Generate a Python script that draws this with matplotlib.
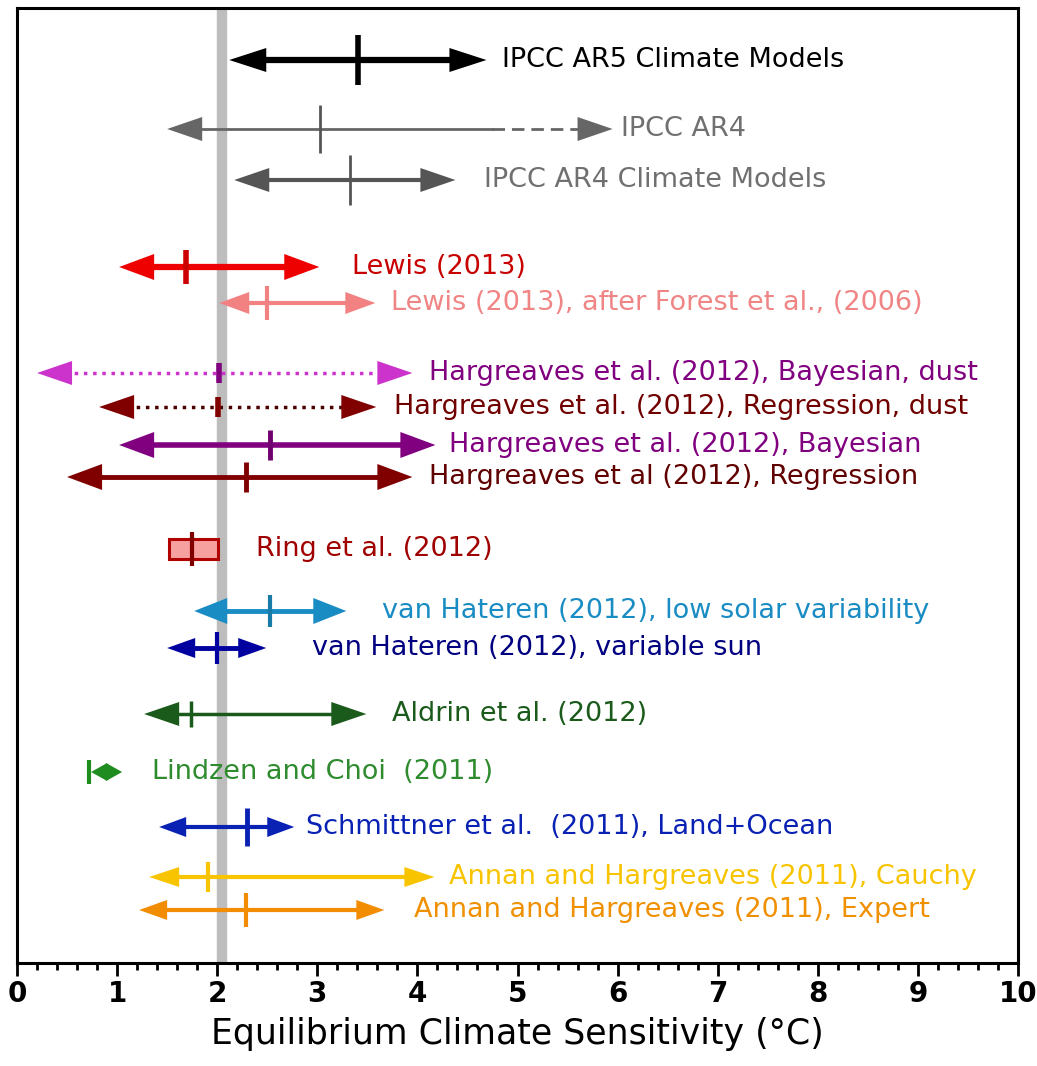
import matplotlib
matplotlib.use("Agg")
import matplotlib.pyplot as plt
from matplotlib.patches import Rectangle

plt.rcParams['font.family'] = ['DejaVu Sans']

# estimates (deg C)
names = [
    "IPCC AR5 Climate Models",
    "IPCC AR4",
    "IPCC AR4 Climate Models",
    "Lewis (2013)",
    "Lewis (2013), after Forest et al., (2006)",
    "Hargreaves et al. (2012), Bayesian, dust",
    "Hargreaves et al. (2012), Regression, dust",
    "Hargreaves et al. (2012), Bayesian",
    "Hargreaves et al (2012), Regression",
    "Ring et al. (2012)",
    "van Hateren (2012), low solar variability",
    "van Hateren (2012), variable sun",
    "Aldrin et al. (2012)",
    "Lindzen and Choi  (2011)",
    "Schmittner et al.  (2011), Land+Ocean",
    "Annan and Hargreaves (2011), Cauchy",
    "Annan and Hargreaves (2011), Expert",
]
low = [2.12, 1.50, 2.17, 1.02, 2.02, 0.20, 0.82, 1.02, 0.50, 1.52, 1.77, 1.50, 1.27, 0.74, 1.42, 1.32, 1.22]
best = [3.41, 3.03, 3.33, 1.69, 2.50, 2.02, 2.01, 2.53, 2.29, 1.75, 2.53, 2.00, 1.74, 0.72, 2.30, 1.91, 2.29]
high = [4.69, 5.95, 4.38, 3.02, 3.58, 3.95, 3.59, 4.18, 3.95, 2.01, 3.29, 2.49, 3.49, 1.05, 2.77, 4.17, 3.67]
ar4_likely_top = 4.75   # solid part of the AR4 bar ends here, dashed beyond
ring_box = (1.52, 2.01)
observed_line = 2.05

# layout / style per row
row_y = [60, 129, 180, 267, 303, 373, 407, 445, 477, 549, 611, 648, 714, 772, 827, 877, 910]
label_x = [4.85, 6.03, 4.67, 3.35, 3.74, 4.12, 3.77, 4.32, 4.12, 2.39, 3.65, 2.95, 3.75, 1.35, 2.89, 4.32, 3.97]
colors = ["black", "#666666", "#555555", "#ee0000", "#f28282", "#cc33cc", "#4a0000", "#800080",
          "#800000", "#c00000", "#1a8cc4", "#0000a0", "#1a5a1a", "#1f8c1f", "#0a22b4", "#f8c400", "#f28c00"]
head_colors = ["black", "#666666", "#555555", "#ee0000", "#f28282", "#cc33cc", "#800000", "#800080",
               "#800000", "#c00000", "#1a8cc4", "#0000a0", "#1a5a1a", "#1f8c1f", "#0a22b4", "#f8c400", "#f28c00"]
tick_colors = ["black", "#555555", "#555555", "#cc0000", "#f28282", "#800080", "#800000", "#700070",
               "#800000", "#800000", "#1a7aa8", "#0000a0", "#1a5a1a", "#1f8c1f", "#0a22b4", "#f8c400", "#f28c00"]
label_colors = ["black", "#707070", "#707070", "#c80000", "#f08585", "#800080", "#700000", "#800080",
                "#600000", "#a00000", "#1a8cc4", "#000080", "#1a5a1a", "#2e8b2e", "#0a22b4", "#f8c400", "#f09000"]
styles = ["-", "-", "-", "-", "-", ":", ":", "-", "-", "-", "-", "-", "-", "-", "-", "-", "-"]
widths = [4.5, 2.0, 3.0, 4.5, 3.0, 2.5, 2.5, 4.0, 3.5, 3.0, 3.5, 3.5, 2.5, 3.0, 3.0, 3.0, 3.0]
head_len = [0.37, 0.35, 0.35, 0.35, 0.30, 0.35, 0.35, 0.35, 0.35, 0, 0.33, 0.28, 0.35, 0.16, 0.27, 0.30, 0.28]
head_w = [12, 12, 12, 13, 11, 12, 12, 13, 13, 0, 13, 10, 12, 9, 10, 10, 10]
tick_h = [25, 24, 25, 17, 17, 10, 10, 15, 15, 17, 16, 16, 13, 12, 19, 15, 17]
tick_w = [4.0, 2.0, 2.0, 4.0, 3.0, 4.0, 4.0, 3.5, 3.5, 3.0, 3.0, 3.0, 2.5, 3.0, 3.5, 3.0, 3.0]

fig = plt.figure(figsize=(10.37, 10.66), dpi=100)
ax = fig.add_axes([17 / 1037, 1 - 963 / 1066, 1001 / 1037, 955 / 1066])
ax.set_xlim(0, 10)
ax.set_ylim(963, 8)

ax.axvline(observed_line, color="#bdbdbd", lw=7.5, zorder=0)


def head(x_tip, y, length, half, color):
    ax.fill([x_tip, x_tip + length, x_tip + length], [y, y - half, y + half],
            color=color, zorder=3, lw=0)


for i, name in enumerate(names):
    y = row_y[i]
    c = colors[i]
    if i == 9:
        ax.add_patch(Rectangle((ring_box[0], y - 10), ring_box[1] - ring_box[0], 20,
                               facecolor="#f7a0a0", edgecolor="#b00000", lw=2.2, zorder=2))
    else:
        L = head_len[i]
        a, b = low[i] + L * 0.8, high[i] - L * 0.8
        if i == 1:
            ax.plot([a, ar4_likely_top], [y, y], color=c, lw=widths[i], zorder=2)
            ax.plot([ar4_likely_top, b], [y, y], color=c, lw=widths[i], zorder=2,
                    dashes=(4.5, 2.5))
        else:
            ax.plot([a, b], [y, y], color=c, lw=widths[i], ls=styles[i], zorder=2)
        head(low[i], y, L, head_w[i], head_colors[i])
        head(high[i], y, -L, head_w[i], head_colors[i])
    ax.plot([best[i], best[i]], [y - tick_h[i], y + tick_h[i]], color=tick_colors[i],
            lw=tick_w[i], zorder=4, solid_capstyle="butt")
    ax.text(label_x[i], y, name, color=label_colors[i], fontsize=19.5,
            va="center", ha="left", zorder=5)

ax.set_xticks(range(0, 11))
ax.set_xticks([k * 0.2 for k in range(51)], minor=True)
ax.set_yticks([])
ax.tick_params(axis="x", which="major", direction="out", length=9, width=2, pad=3,
               labelsize=20)
ax.tick_params(axis="x", which="minor", direction="out", length=5, width=2)
for lab in ax.get_xticklabels():
    lab.set_fontweight("bold")
for s in ax.spines.values():
    s.set_linewidth(2.2)
ax.set_xlabel("Equilibrium Climate Sensitivity (°C)", fontsize=25, labelpad=7)

fig.savefig("out.png", dpi=100)
